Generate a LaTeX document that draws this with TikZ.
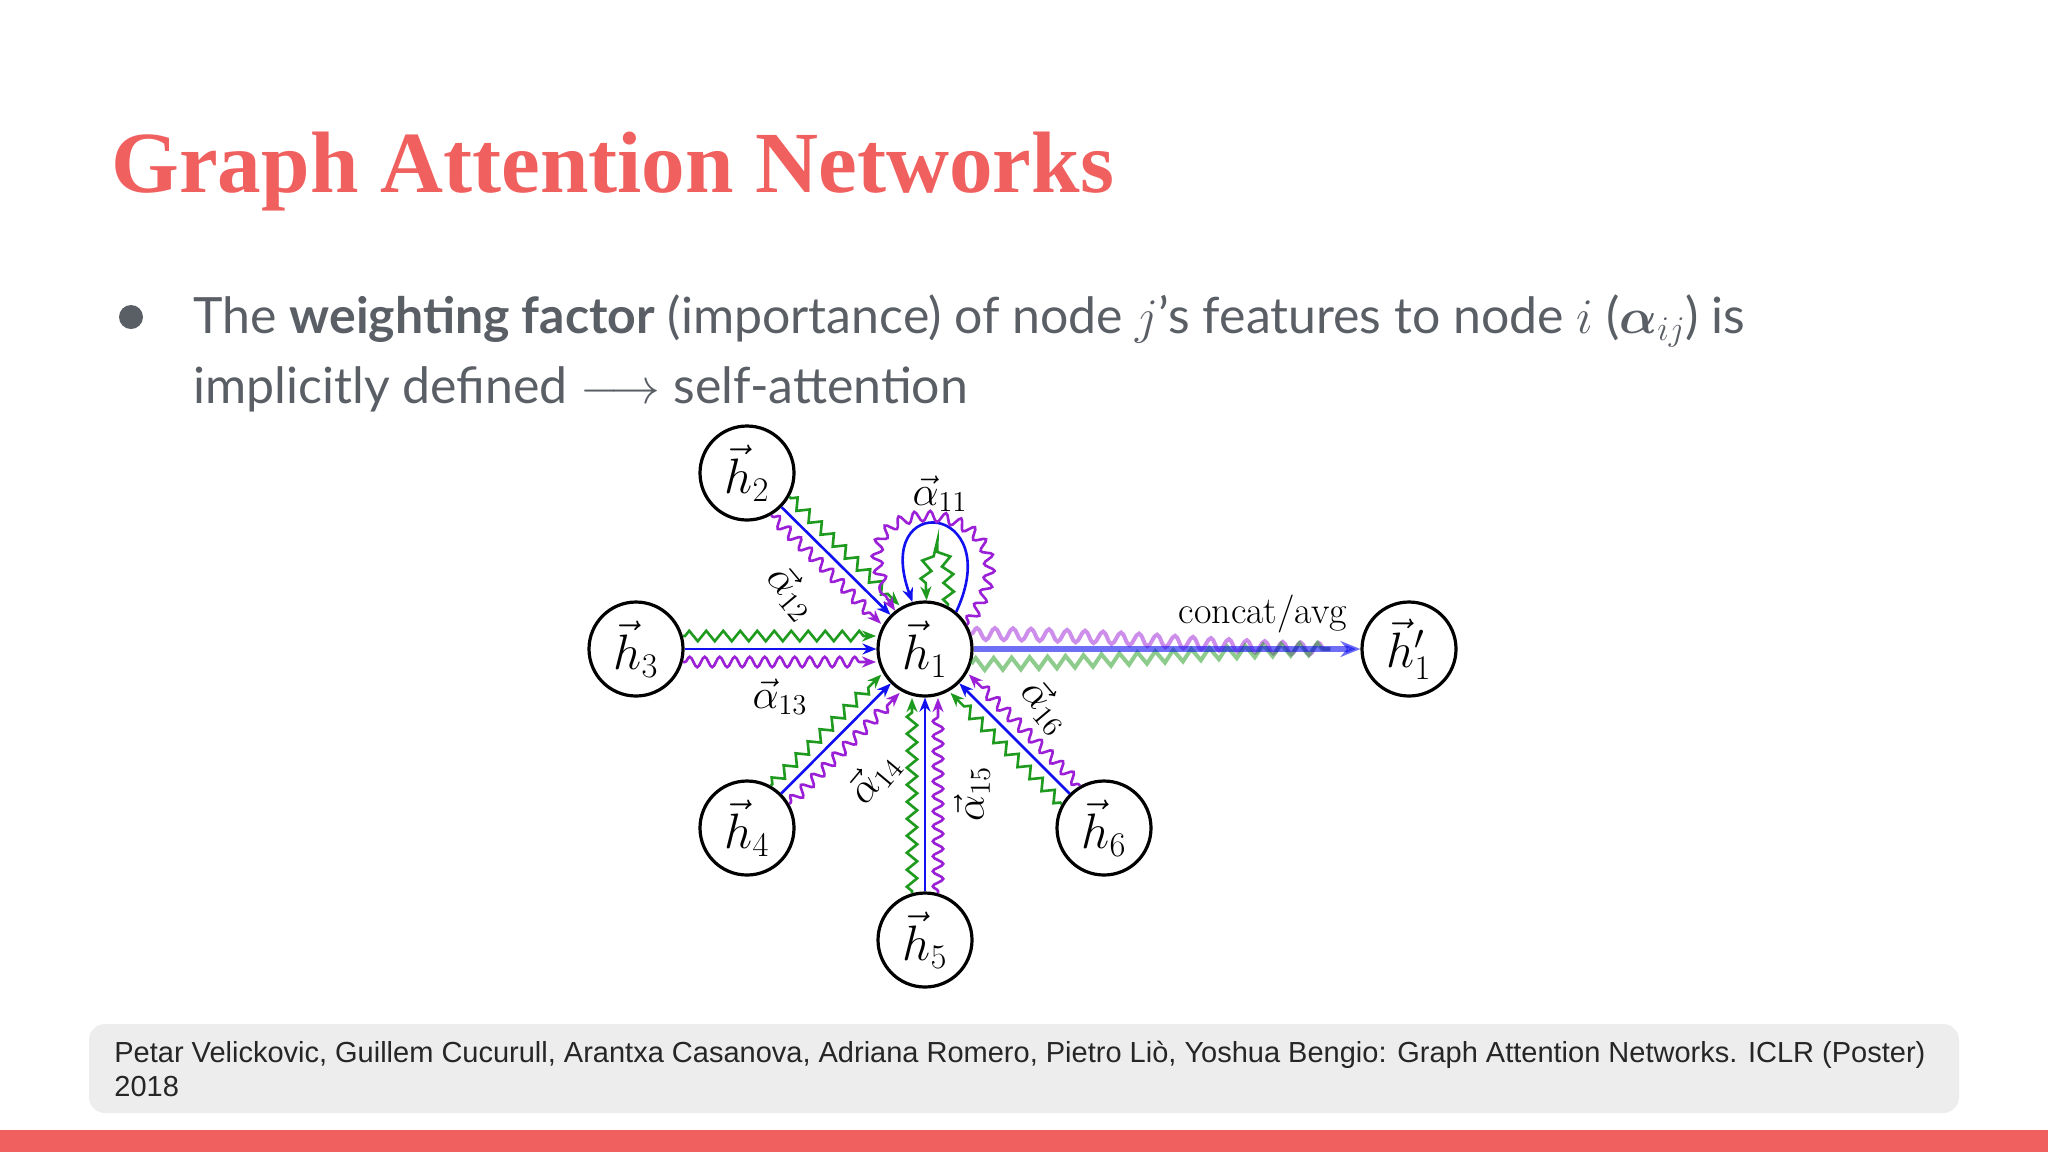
\documentclass[tikz,border=0pt]{standalone}
\usepackage{fontspec}
\usepackage{amsmath,bm}
\setmainfont{Lato}
\newfontfamily\titlefont{Liberation Serif}
\newfontfamily\footfont{Liberation Sans}
\newfontfamily\lmr{Latin Modern Roman}
\usetikzlibrary{decorations.pathmorphing,calc,arrows.meta}
\definecolor{coral}{HTML}{F0605F}
\definecolor{txtgray}{HTML}{5A5F66}
\definecolor{gr}{HTML}{1E9A1E}
\definecolor{pu}{HTML}{9B1FD6}
\definecolor{bl}{HTML}{1010F0}
\tikzset{
 gnode/.style={circle,draw,line width=1.6pt,minimum size=47pt,inner sep=0pt,font=\fontsize{24}{28}\selectfont},
 arr/.style={line width=1.3pt,-{Stealth[length=7pt,width=5.5pt]}},
 bline/.style={arr,bl},
 gline/.style={arr,gr,decorate,decoration={zigzag,segment length=8.5pt,amplitude=2.6pt,pre length=1pt,post length=6pt}},
 pline/.style={arr,pu,decorate,decoration={snake,segment length=7.5pt,amplitude=2.6pt,pre length=1pt,post length=6pt}},
 alab/.style={font=\fontsize{20}{24}\selectfont,inner sep=0pt},
 txt/.style={anchor=base west,inner sep=0pt}
}
\newcommand{\triple}[2]{%
 \draw[bline] (#1) -- (#2);
 \draw[gline] ($(#1)!23.5pt!(#2)!6.5pt!90:(#2)$) -- ($(#2)!24.5pt!(#1)!6.5pt!-90:(#1)$);
 \draw[pline] ($(#1)!23.5pt!(#2)!6.5pt!-90:(#2)$) -- ($(#2)!24.5pt!(#1)!6.5pt!90:(#1)$);
}
\begin{document}
\begin{tikzpicture}[x=0.5pt,y=-0.5pt]
\useasboundingbox (0,0) rectangle (2048,1152);
\fill[white] (0,0) rectangle (2048,1152);
% title
\node[txt,text=coral,font=\titlefont\bfseries\fontsize{43.6}{48}\selectfont] (title) at (111,192) {Graph Attention Networks};
% bullet
\fill[txtgray] (131,317) circle (6pt);
\node[txt,text=txtgray,font=\fontsize{25}{29}\selectfont] (l1) at (193,333) {The \textbf{weighting factor} (importance) of node $j$'s features to node $i$ ($\bm{\alpha}_{ij}$) is};
\node[txt,text=txtgray,font=\fontsize{25}{29}\selectfont] (l2) at (193,403) {implicitly defined $\longrightarrow$ self-attention};
% graph
\node[gnode] (h1) at (925,649) {$\vec h_1$};
\node[gnode] (h2) at (747,473) {$\vec h_2$};
\node[gnode] (h3) at (636,649) {$\vec h_3$};
\node[gnode] (h4) at (747,828) {$\vec h_4$};
\node[gnode] (h5) at (925,940) {$\vec h_5$};
\node[gnode] (h6) at (1104,828) {$\vec h_6$};
\node[gnode] (ho) at (1409,649) {$\vec h_1'$};
\triple{h2}{h1}
\triple{h3}{h1}
\triple{h4}{h1}
\triple{h5}{h1}
\triple{h6}{h1}
% self loops
\draw[bline] (h1.50) .. controls +(65:60pt) and +(110:60pt) .. (h1.105);
\draw[gline] (h1.62) .. controls +(85:38pt) and +(95:38pt) .. (h1.88);
\draw[pline] (h1.30) .. controls +(55:80pt) and +(125:80pt) .. (h1.128);
% output
\draw[line width=2pt,pu,opacity=0.5,decorate,decoration={snake,segment length=9pt,amplitude=3pt,post length=2pt}] (h1.18) .. controls +(0:70pt) and +(180:50pt) .. ($(ho.west)+(-30,0)$);
\draw[line width=2pt,gr,opacity=0.5,decorate,decoration={zigzag,segment length=9pt,amplitude=3pt,post length=2pt}] (h1.-18) .. controls +(0:70pt) and +(180:50pt) .. ($(ho.west)+(-30,0)$);
\draw[line width=2.6pt,bl,opacity=0.6,-{Stealth[length=10pt,width=8pt]}] (h1) -- (ho);
\node[alab,font=\lmr\fontsize{19}{22}\selectfont] (ca) at (1263,614) {concat/avg};
% labels
\node[alab] (a11) at (940,494) {$\vec\alpha_{11}$};
\node[alab,rotate=-50] (a12) at (792,592) {$\vec\alpha_{12}$};
\node[alab] (a13) at (780,697) {$\vec\alpha_{13}$};
\node[alab,rotate=50] (a14) at (874,778) {$\vec\alpha_{14}$};
\node[alab,rotate=90] (a15) at (972,794) {$\vec\alpha_{15}$};
\node[alab,rotate=-50] (a16) at (1046,706) {$\vec\alpha_{16}$};
% footer
\fill[black!7,rounded corners=8pt] (89,1024) rectangle (1959,1113);
\node[txt,font=\footfont\fontsize{14.5}{17}\selectfont,text=black!85] (f1) at (114,1062) {Petar Velickovic, Guillem Cucurull, Arantxa Casanova, Adriana Romero, Pietro Liò, Yoshua Bengio: Graph Attention Networks. ICLR (Poster)};
\node[txt,font=\footfont\fontsize{14.5}{17}\selectfont,text=black!85] (f2) at (114,1096) {2018};
\fill[coral] (0,1130) rectangle (2048,1152);
\end{tikzpicture}
\end{document}
